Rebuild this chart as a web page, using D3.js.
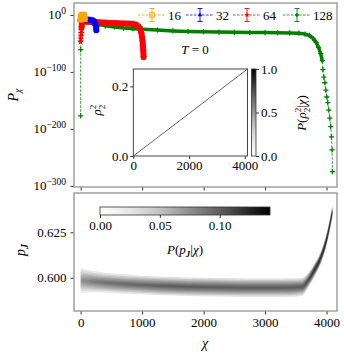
<!DOCTYPE html>
<html>
<head>
<meta charset="utf-8">
<script src="https://d3js.org/d3.v7.min.js"></script>
<style>
  body { margin: 0; background: #fff; }
  svg text { font-family: "Liberation Serif", "DejaVu Serif", serif; font-size: 13px; fill: #000; }
</style>
</head>
<body>
<svg width="344" height="355"></svg>
<script>
// ---------- data ----------
const sizes = [16, 32, 64, 128];

const chi16  = [0, 8, 16, 24, 32, 40, 48, 56, 64];
const logP16 = [-8, -4, -1, 0, 0, 0, -1, -3, -7];

const chi32  = [0, 10, 30, 60, 100, 140, 180, 210, 230, 240, 248, 252, 256];
const logP32 = [-9, -8, -7.5, -7.5, -8, -8.5, -9, -10, -12, -15, -19, -23, -27];

const chi64  = [0, 3, 6, 9, 12, 16, 20, 30, 60, 100, 150, 200, 300, 400, 500, 600, 700, 800,
                860, 900, 930, 955, 975, 990, 1000, 1008, 1014, 1019, 1024];
const logP64 = [-47, -42, -37, -32, -27, -22, -17, -12, -11, -11.5, -12, -12.5, -13, -13.5, -14, -14.5, -15, -15.5,
                -16, -17, -19, -22, -27, -33, -40, -47, -55, -64, -74];

const chi128  = [0, 1, 4, 20, 50, 100, 200, 300, 400, 550, 700, 850, 1000, 1250, 1500, 1750, 2000, 2250,
                 2500, 2750, 3000, 3200, 3400, 3550, 3650, 3720, 3780, 3830, 3870, 3905, 3930,
                 3940, 3956, 3972, 3988, 4004, 4020, 4036, 4052, 4068, 4080, 4090, 4096];
const logP128 = [-177, -61, -9, -11, -12, -13, -15, -17, -19, -21, -23, -24, -25, -26.5, -28, -29, -29.5, -30,
                 -30.5, -30.8, -31, -31.2, -31.5, -32, -33.5, -36, -41, -48, -57, -68, -80,
                 -96, -109, -119, -132, -144, -154, -167, -181, -196, -214, -237, -275];

const topTicks = [0, -100, -200, -300];          // exponents
const xTicks = [0, 1000, 2000, 3000, 4000];

// inset: rho_2^2 versus chi (a thin diagonal ridge)
const insetChi = [0, 4096];
const insetRho = [0, 0.25];
const insetXTicks = [0, 2000, 4000];
const insetYTicks = [0.0, 0.2];
const insetCbTicks = [0.0, 0.5, 1.0];

// bottom: band of P(p_J | chi)
const bandChi  = [0, 250, 500, 1000, 1500, 2000, 2500, 3000, 3400, 3600, 3700, 3800, 3900, 4000, 4096];
const bandMean = [0.5985, 0.5977, 0.5970, 0.5960, 0.5953, 0.5949, 0.5946, 0.5945, 0.5946, 0.5950,
                  0.5985, 0.6040, 0.6105, 0.6210, 0.6365];
const bandSd   = [0.0026, 0.0021, 0.0020, 0.0019, 0.0019, 0.0019, 0.0019, 0.0019, 0.0019, 0.0018,
                  0.0015, 0.0013, 0.0012, 0.0012, 0.0012];
const bandPeak = [0.06, 0.075, 0.08, 0.085, 0.09, 0.09, 0.09, 0.09, 0.09, 0.09,
                  0.10, 0.115, 0.12, 0.125, 0.12];
const botYTicks = [0.600, 0.625];
const cbTicks = [0.00, 0.05, 0.10];

// ---------- layout ----------
const svg = d3.select("svg");
const X0 = 74, X1 = 337;
const T0 = 3, T1 = 187;       // top panel
const B0 = 193, B1 = 311;     // bottom panel
const frameCol = "#9a9a9a";

const x = d3.scaleLinear().domain([-108, 4170]).range([X0, X1]);
const yTop = d3.scaleLinear().domain([-302, 21]).range([T1, T0]);
const yBot = d3.scaleLinear().domain([0.5817, 0.6466]).range([B1, B0]);

const defs = svg.append("defs");
defs.append("clipPath").attr("id", "clipTop").append("rect")
  .attr("x", X0).attr("y", T0).attr("width", X1 - X0).attr("height", T1 - T0);
defs.append("clipPath").attr("id", "clipBot").append("rect")
  .attr("x", X0).attr("y", B0).attr("width", X1 - X0).attr("height", B1 - B0);

function mathText(sel, parts) {
  parts.forEach(p => {
    const t = sel.append("tspan").text(p.t);
    if (p.i) t.attr("font-style", "italic");
    if (p.b) t.attr("font-weight", "bold");
    if (p.s) t.attr("font-size", p.s);
    if (p.dy) t.attr("dy", p.dy);
    if (p.dx) t.attr("dx", p.dx);
  });
  return sel;
}

// ---------- top panel ----------
const gTop = svg.append("g");
const plotTop = gTop.append("g").attr("clip-path", "url(#clipTop)");

const series = [
  {n: 16,  chi: chi16,  lp: logP16,  color: "#ffa500", band: [0, 8],  bw: 6,   mk: "square"},
  {n: 32,  chi: chi32,  lp: logP32,  color: "#0000ff", band: [0, 12], bw: 6,   mk: "tri"},
  {n: 64,  chi: chi64,  lp: logP64,  color: "#ff0000", band: [5, 28], bw: 6,   mk: "star"},
  {n: 128, chi: chi128, lp: logP128, color: "#008000", band: [2, 30], bw: 3.5, mk: "plus"}
];

function drawMarker(g, type, color, cx, cy, r) {
  if (type === "square") {
    g.append("rect").attr("x", cx - r).attr("y", cy - r).attr("width", 2 * r).attr("height", 2 * r)
      .attr("fill", "none").attr("stroke", color).attr("stroke-width", 1);
  } else if (type === "tri") {
    g.append("path").attr("transform", `translate(${cx},${cy})`)
      .attr("d", d3.symbol(d3.symbolTriangle, r * r * 2.2)()).attr("fill", color);
  } else if (type === "star") {
    g.append("path").attr("transform", `translate(${cx},${cy})`)
      .attr("d", d3.symbol(d3.symbolStar, r * r * 2.4)()).attr("fill", color);
  } else {
    g.append("path").attr("d", `M${cx - r},${cy}H${cx + r}M${cx},${cy - r}V${cy + r}`)
      .attr("stroke", color).attr("stroke-width", 1.3).attr("fill", "none");
  }
}

const line = d3.line().x(d => x(d[0])).y(d => yTop(d[1]));

series.slice().reverse().forEach(s => {
  const pts = s.chi.map((c, i) => [c, s.lp[i]]);
  const g = plotTop.append("g");
  g.append("path").datum(pts).attr("d", line)
    .attr("fill", "none").attr("stroke", s.color).attr("stroke-width", 0.8)
    .attr("stroke-dasharray", "2.5,1.5");
  g.append("path").datum(pts.slice(s.band[0], s.band[1] + 1)).attr("d", line)
    .attr("fill", "none").attr("stroke", s.color).attr("stroke-width", s.bw)
    .attr("stroke-linejoin", "round").attr("stroke-linecap", "round");
  pts.forEach(p => drawMarker(g, s.mk, s.color, x(p[0]), yTop(p[1]), 2.6));
});

// axes top
gTop.append("g").attr("transform", `translate(0,${T1})`)
  .call(d3.axisBottom(x).tickValues(xTicks).tickSize(3.5).tickFormat(""))
  .call(a => a.select(".domain").remove());
const yAxT = gTop.append("g").attr("transform", `translate(${X0},0)`)
  .call(d3.axisLeft(yTop).tickValues(topTicks).tickSize(3.5).tickFormat(""));
yAxT.select(".domain").remove();
topTicks.forEach(k => {
  const t = gTop.append("text").attr("x", 66).attr("y", yTop(k) + 4.5).attr("text-anchor", "end");
  mathText(t, [{t: "10"}, {t: k === 0 ? "0" : "\u2212" + (-k), s: "9.5px", dy: -5.5}]);
});
gTop.append("rect").attr("x", X0).attr("y", T0).attr("width", X1 - X0).attr("height", T1 - T0)
  .attr("fill", "none").attr("stroke", frameCol).attr("stroke-width", 1.4);

mathText(gTop.append("text").attr("transform", "translate(18,95) rotate(-90)").attr("text-anchor", "middle"),
  [{t: "P", i: true, s: "14px"}, {t: "\u03c7", i: true, s: "10px", dy: 3}]);

mathText(gTop.append("text").attr("x", 195).attr("y", 54).attr("text-anchor", "middle"),
  [{t: "T", i: true}, {t: " = 0"}]);

// legend
const legX = [138, 186, 233, 283];
series.forEach((s, i) => {
  const g = gTop.append("g");
  const x0 = legX[i], xm = x0 + 14, yc = 15;
  g.append("line").attr("x1", x0).attr("x2", x0 + 28).attr("y1", yc).attr("y2", yc)
    .attr("stroke", s.color).attr("stroke-width", 0.8).attr("stroke-dasharray", "2.5,1.5");
  g.append("path").attr("d", `M${xm},${yc - 6.5}V${yc + 6.5}M${xm - 2.5},${yc - 6.5}H${xm + 2.5}M${xm - 2.5},${yc + 6.5}H${xm + 2.5}`)
    .attr("stroke", s.color).attr("stroke-width", 0.9).attr("fill", "none");
  drawMarker(g, s.mk, s.color, xm, yc, s.mk === "square" ? 2.2 : 2);
  g.append("text").attr("x", x0 + 30).attr("y", yc + 4.5).text(s.n);
});

// inset
const IX0 = 133.3, IX1 = 247.5, IY0 = 69, IY1 = 156;
const xi = d3.scaleLinear().domain([0, 4096]).range([IX0, IX1]);
const yi = d3.scaleLinear().domain([0, 0.25]).range([IY1, IY0]);
const gIn = svg.append("g");
gIn.append("rect").attr("x", IX0).attr("y", IY0).attr("width", IX1 - IX0).attr("height", IY1 - IY0)
  .attr("fill", "#fff");
gIn.append("path").datum(insetChi.map((c, i) => [c, insetRho[i]]))
  .attr("d", d3.line().x(d => xi(d[0])).y(d => yi(d[1])))
  .attr("fill", "none").attr("stroke", "#555").attr("stroke-width", 0.9);
gIn.append("rect").attr("x", IX0).attr("y", IY0).attr("width", IX1 - IX0).attr("height", IY1 - IY0)
  .attr("fill", "none").attr("stroke", "#333").attr("stroke-width", 0.9);
gIn.append("g").attr("transform", `translate(0,${IY1})`)
  .call(d3.axisBottom(xi).tickValues(insetXTicks).tickSize(3).tickPadding(2).tickFormat(d3.format("d")))
  .call(a => a.select(".domain").remove());
gIn.append("g").attr("transform", `translate(${IX0},0)`)
  .call(d3.axisLeft(yi).tickValues(insetYTicks).tickSize(3).tickPadding(2).tickFormat(d3.format(".1f")))
  .call(a => a.select(".domain").remove());
mathText(gIn.append("text").attr("transform", "translate(101,110) rotate(-90)").attr("text-anchor", "middle"),
  [{t: "\u03c1", i: true}, {t: "2", s: "9px", dy: -5}, {t: "2", s: "9px", dx: -4.5, dy: 9}]);

// inset colorbar
const CX0 = 251.5, CX1 = 256;
const yc = d3.scaleLinear().domain([0, 1]).range([IY1, IY0]);
const gradV = defs.append("linearGradient").attr("id", "gradV")
  .attr("x1", 0).attr("y1", 1).attr("x2", 0).attr("y2", 0);
d3.range(0, 1.01, 0.1).forEach(t => gradV.append("stop").attr("offset", t).attr("stop-color", d3.interpolateGreys(t)));
gIn.append("rect").attr("x", CX0).attr("y", IY0).attr("width", CX1 - CX0).attr("height", IY1 - IY0)
  .attr("fill", "url(#gradV)").attr("stroke", "#333").attr("stroke-width", 0.8);
gIn.append("g").attr("transform", `translate(${CX1},0)`)
  .call(d3.axisRight(yc).tickValues(insetCbTicks).tickSize(3).tickPadding(2).tickFormat(d3.format(".1f")))
  .call(a => a.select(".domain").remove());
mathText(gIn.append("text").attr("transform", "translate(306,113) rotate(-90)").attr("text-anchor", "middle"),
  [{t: "P", i: true}, {t: "("}, {t: "\u03c1", i: true}, {t: "2", s: "9px", dy: -5}, {t: "2", s: "9px", dx: -4.5, dy: 9},
   {t: "|", dy: -4}, {t: "\u03c7", i: true}, {t: ")"}]);

// ---------- bottom panel ----------
const gBot = svg.append("g");
const plotBot = gBot.append("g").attr("clip-path", "url(#clipBot)");
const cMax = 0.142;
const layers = [2.7, 2.25, 1.85, 1.5, 1.2, 0.9, 0.6, 0.3];
const gradH = defs.append("linearGradient").attr("id", "gradH")
  .attr("gradientUnits", "userSpaceOnUse").attr("x1", X0).attr("x2", X1).attr("y1", 0).attr("y2", 0);
bandChi.forEach((c, i) => {
  const g = bandPeak[i] / cMax;
  const a = 1 - Math.pow(1 - g, 1 / layers.length);
  gradH.append("stop").attr("offset", (x(c) - X0) / (X1 - X0)).attr("stop-color", "#000").attr("stop-opacity", a);
});
const bandPts = bandChi.map((c, i) => ({c, m: bandMean[i], s: bandSd[i]}));
layers.forEach(k => {
  plotBot.append("path").datum(bandPts)
    .attr("d", d3.area().curve(d3.curveMonotoneX)
      .x(d => x(d.c)).y0(d => yBot(d.m - k * d.s)).y1(d => yBot(d.m + k * d.s)))
    .attr("fill", "url(#gradH)");
});

gBot.append("g").attr("transform", `translate(0,${B1})`)
  .call(d3.axisBottom(x).tickValues(xTicks).tickSize(3.5).tickPadding(3).tickFormat(d3.format("d")))
  .call(a => a.select(".domain").remove());
gBot.append("g").attr("transform", `translate(${X0},0)`)
  .call(d3.axisLeft(yBot).tickValues(botYTicks).tickSize(3.5).tickPadding(4).tickFormat(d3.format(".3f")))
  .call(a => a.select(".domain").remove());
gBot.append("rect").attr("x", X0).attr("y", B0).attr("width", X1 - X0).attr("height", B1 - B0)
  .attr("fill", "none").attr("stroke", frameCol).attr("stroke-width", 1.4);

mathText(gBot.append("text").attr("transform", "translate(25,250) rotate(-90)").attr("text-anchor", "middle"),
  [{t: "p", i: true, s: "14px"}, {t: "J", i: true, b: true, s: "10px", dy: 3}]);
mathText(gBot.append("text").attr("x", 205).attr("y", 348).attr("text-anchor", "middle"),
  [{t: "\u03c7", i: true, s: "14px"}]);

// bottom colorbar
const xcb = d3.scaleLinear().domain([0, cMax]).range([100, 270]);
const gradB = defs.append("linearGradient").attr("id", "gradB");
d3.range(0, 1.01, 0.1).forEach(t => gradB.append("stop").attr("offset", t).attr("stop-color", d3.interpolateGreys(t)));
gBot.append("rect").attr("x", 100).attr("y", 207).attr("width", 170).attr("height", 8)
  .attr("fill", "url(#gradB)").attr("stroke", "#333").attr("stroke-width", 0.8);
gBot.append("g").attr("transform", "translate(0,215)")
  .call(d3.axisBottom(xcb).tickValues(cbTicks).tickSize(3).tickPadding(3).tickFormat(d3.format(".2f")))
  .call(a => a.select(".domain").remove());
mathText(gBot.append("text").attr("x", 185).attr("y", 254).attr("text-anchor", "middle"),
  [{t: "P", i: true}, {t: "("}, {t: "p", i: true}, {t: "J", i: true, b: true, s: "9px", dy: 3},
   {t: "|", dy: -3}, {t: "\u03c7", i: true}, {t: ")"}]);

// axis text style
svg.selectAll(".tick text").attr("font-size", "13px").attr("font-family", "Liberation Serif, DejaVu Serif, serif").attr("fill", "#000");
svg.selectAll(".tick line").attr("stroke", "#333");
</script>
</body>
</html>
